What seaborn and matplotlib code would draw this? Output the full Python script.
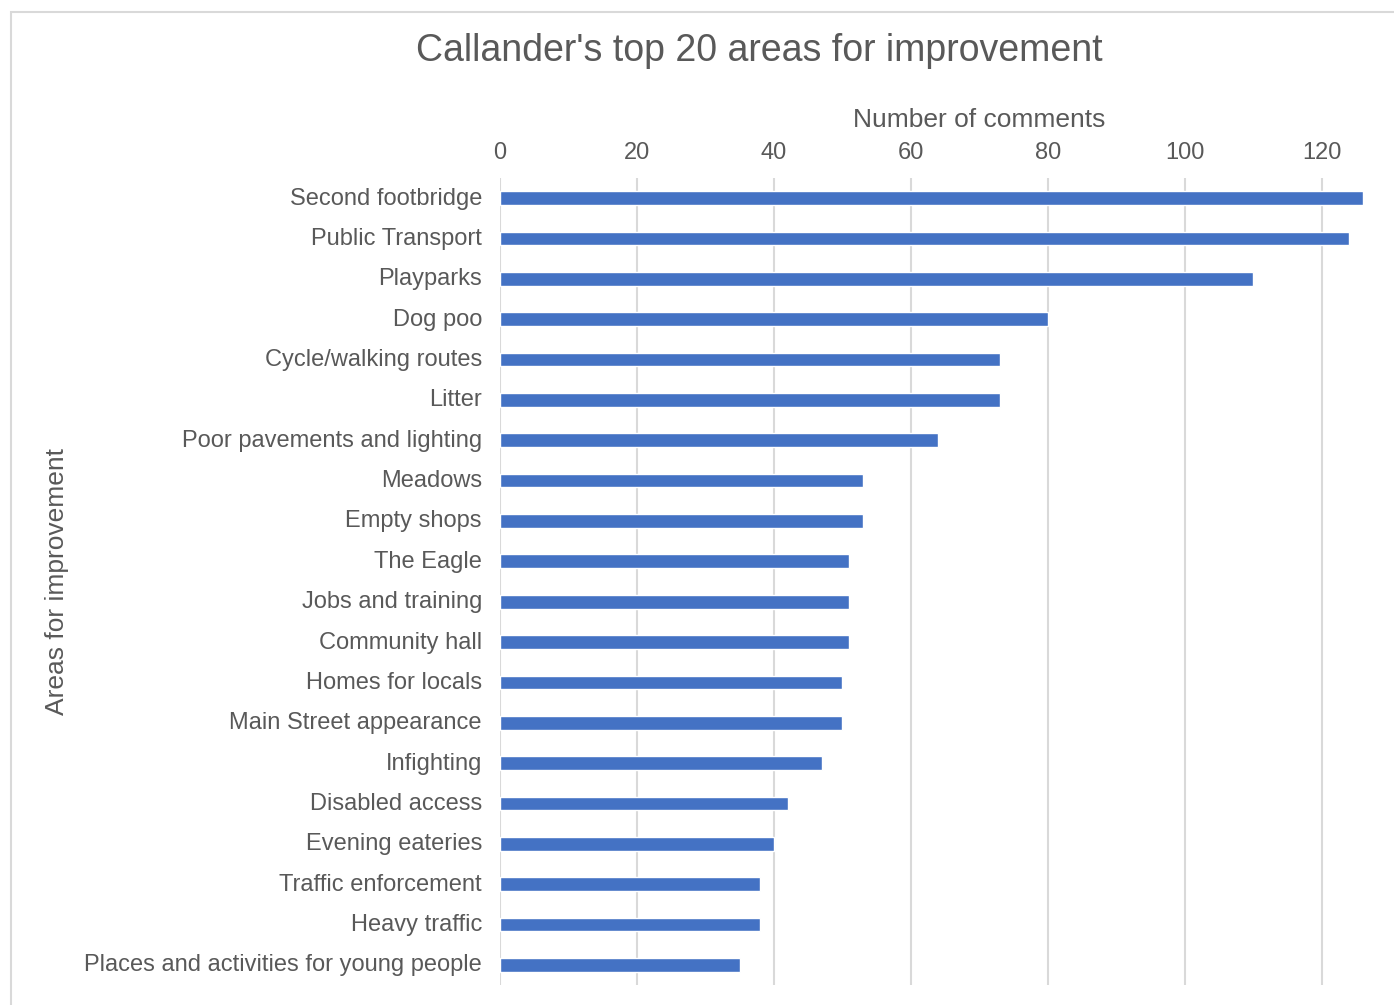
import matplotlib
matplotlib.use("Agg")
import matplotlib.pyplot as plt
import matplotlib.transforms as mtransforms
import seaborn as sns
import pandas as pd
from matplotlib.patches import Rectangle

# Data
areas = [
    "Second footbridge", "Public Transport", "Playparks", "Dog poo",
    "Cycle/walking routes", "Litter", "Poor pavements and lighting",
    "Meadows", "Empty shops", "The Eagle", "Jobs and training",
    "Community hall", "Homes for locals", "Main Street appearance",
    "Infighting", "Disabled access", "Evening eateries",
    "Traffic enforcement", "Heavy traffic",
    "Places and activities for young people",
]
comments = [126, 124, 110, 80, 73, 73, 64, 53, 53, 51,
            51, 51, 50, 50, 47, 42, 40, 38, 38, 35]
xticks = [0, 20, 40, 60, 80, 100, 120]

df = pd.DataFrame({"area": areas, "comments": comments})

sns.set_theme(style="white")
plt.rcParams["font.family"] = ["Liberation Sans", "DejaVu Sans"]

text_col = "#595959"
grid_col = "#d9d9d9"

fig = plt.figure(figsize=(13.94, 10.05), dpi=100)
ax = fig.add_axes([0.3587, 0.0199, 0.6191, 0.803])

sns.barplot(data=df, x="comments", y="area", color="#4472C4",
            width=0.34, saturation=1, ax=ax, orient="h")

ax.set_xlim(0, 126)
ax.set_xticks(xticks)
ax.xaxis.tick_top()
ax.xaxis.set_label_position("top")
ax.tick_params(axis="x", length=0, pad=10, labelsize=17, labelcolor=text_col)
ax.tick_params(axis="y", length=0, pad=13, labelsize=17, labelcolor=text_col)
ax.grid(axis="x", color=grid_col, linewidth=1.5)
ax.set_axisbelow(True)
for s in ax.spines.values():
    s.set_visible(False)

# nudge category labels up a little
shift = mtransforms.ScaledTranslation(0, 2 / 100, fig.dpi_scale_trans)
for lbl in ax.get_yticklabels():
    lbl.set_transform(lbl.get_transform() + shift)

ax.set_xlabel("Number of comments", fontsize=19, color=text_col)
ax.xaxis.set_label_coords(0.555, 1.063)
ax.set_ylabel("Areas for improvement", fontsize=19, color=text_col)
ax.yaxis.set_label_coords(-0.499, 0.5)

fig.text(0.5445, 0.949, "Callander's top 20 areas for improvement",
         ha="center", va="center", fontsize=27, color=text_col)

# outer chart border
fig.patches.append(Rectangle((11 / 1394, -0.01), 1.0, 1 - 12 / 1005 + 0.01,
                             transform=fig.transFigure, fill=False,
                             edgecolor=grid_col, linewidth=1.5))

fig.savefig("out.png", dpi=100)
